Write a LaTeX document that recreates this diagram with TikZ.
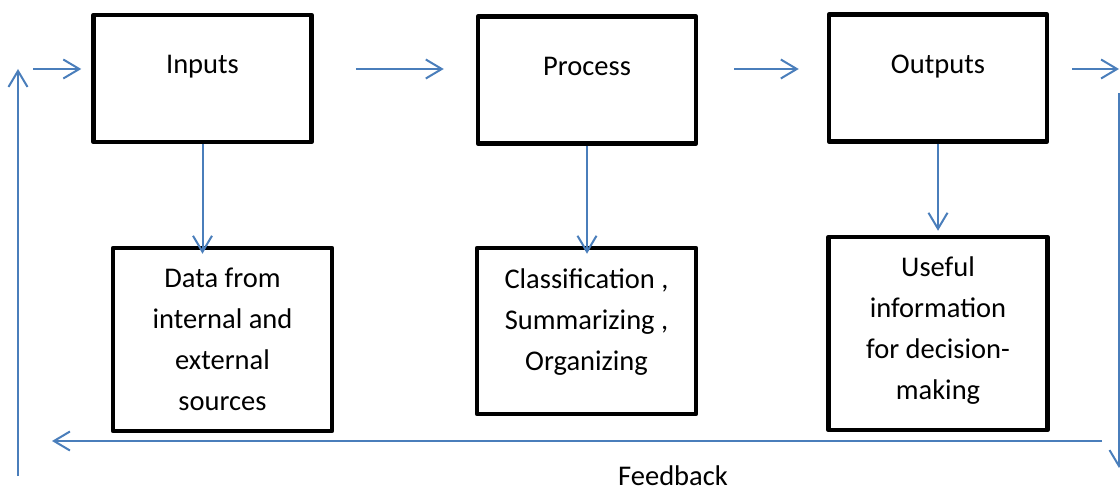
\documentclass[tikz,border=0pt]{standalone}
\usepackage{fontspec}
\setmainfont{Carlito}
\usetikzlibrary{arrows.meta,calc}

\definecolor{flowblue}{RGB}{74,126,187}

\tikzset{
  stage/.style={draw, line width=4.5pt, line join=round, minimum width=218pt,
    minimum height=127pt, inner sep=0pt, text height=20pt, text depth=29pt},
  detail/.style={draw, line width=4.5pt, line join=round, minimum width=219pt,
    align=center, inner sep=0pt},
  flow/.style={draw=flowblue, line width=2pt, -{Straight Barb[length=16pt,width=19pt]}},
}

\begin{document}
\begin{tikzpicture}[x=1pt, y=1pt, font=\fontsize{28.5}{41}\selectfont]
\useasboundingbox (0,0) rectangle (1120,491);

% main stages
\node[stage] (inputs) at (202.5,412.5) {Inputs};
\node[stage] (process) at (587,411) {Process};
\node[stage] (outputs) at (938,413) {Outputs};

% what each stage holds
\node[detail, minimum height=183pt] (data) at (222.5,151.5) {Data from\\internal and\\external\\sources};
\node[detail, minimum height=166pt, text depth=22pt] (classif) at (586.5,160) {Classification ,\\Summarizing ,\\Organizing};
\node[detail, minimum height=193pt, text depth=10pt] (useful) at (938,157.5) {Useful\\information\\for decision-\\making};

% loop ends
\coordinate (loop-in) at (33,422);
\coordinate (loop-out) at (1119,422);
\coordinate (fb-right) at (1102,50);
\coordinate (fb-left) at (52,50);
\coordinate (up-bottom) at (18,15);
\coordinate (up-top) at (18,422);
\coordinate (down-top) at (1119,398);
\coordinate (down-bottom) at (1119,23);

% flow along the top
\draw[flow, shorten >=10pt] (loop-in) -- (loop-in -| inputs.west);
\draw[flow, shorten <=42pt, shorten >=32pt] (inputs.east |- loop-in) -- (process.west |- loop-in);
\draw[flow, shorten <=36pt, shorten >=28pt] (process.east |- loop-in) -- (outputs.west |- loop-in);
\draw[flow, shorten <=23pt] (outputs.east |- loop-in) -- (loop-out);

% down to the details
\draw[flow, shorten >=-8pt] (inputs.south) -- (inputs.south |- data.north);
\draw[flow, shorten >=-8pt] (process.south) -- (process.south |- classif.north);
\draw[flow, shorten >=4pt] (outputs.south) -- (outputs.south |- useful.north);

% feedback
\draw[flow] (down-top) -- (down-bottom);
\draw[flow] (fb-right) -- (fb-left);
\draw[flow] (up-bottom) -- (up-top);
\node[anchor=base, inner sep=0pt] (fb-label) at (673,6) {Feedback};

\end{tikzpicture}
\end{document}
